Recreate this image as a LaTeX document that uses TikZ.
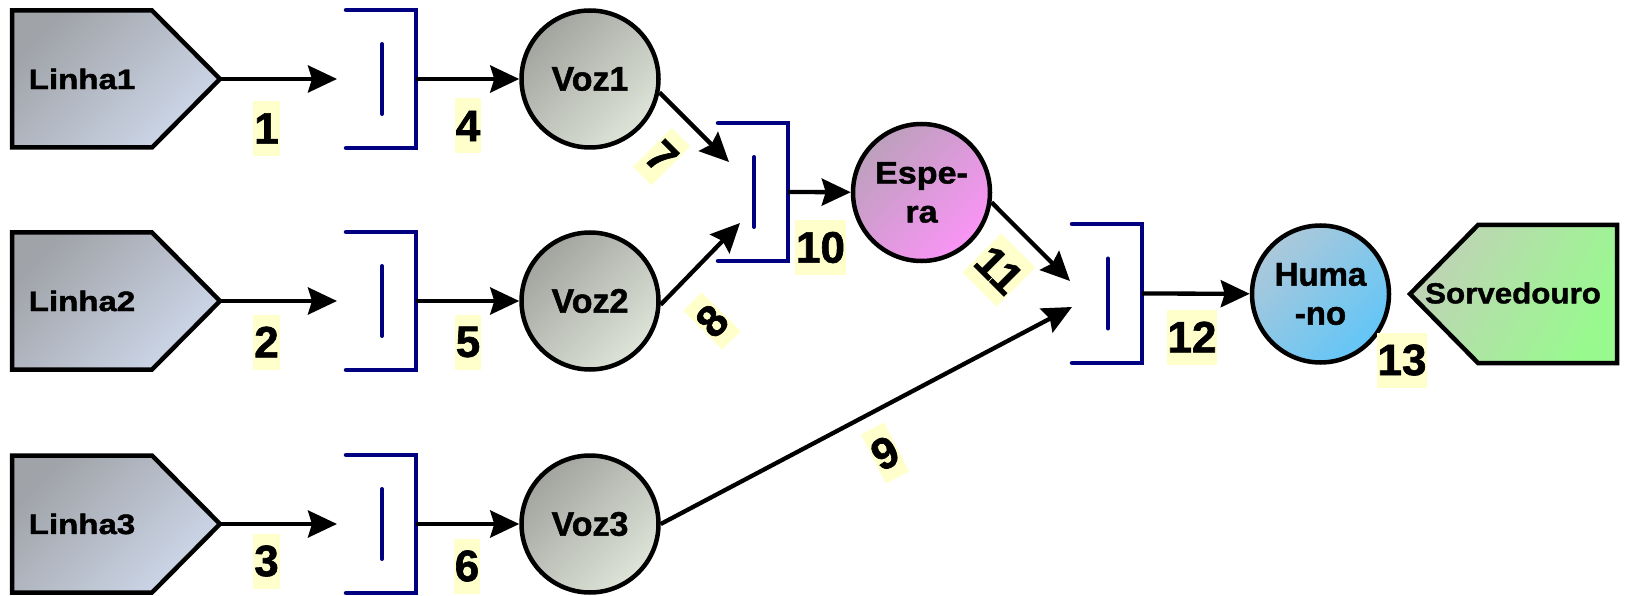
\documentclass[tikz,border=0pt]{standalone}
\usepackage{fontspec}
\setmainfont{Liberation Sans}[BoldFeatures={FakeBold=1.4}]
\newfontfamily\linhafont{Liberation Sans}[FakeStretch=1.18,BoldFeatures={FakeBold=1.6}]
\newfontfamily\esperafont{Liberation Sans}[FakeStretch=1.1,BoldFeatures={FakeBold=1.4}]
\newfontfamily\sorvfont{Liberation Sans}[FakeStretch=1.08,BoldFeatures={FakeBold=1.4}]
\usetikzlibrary{arrows.meta,calc}
\definecolor{lbly}{HTML}{FFFFCC}
\definecolor{qblue}{RGB}{0,0,128}
\definecolor{linA}{RGB}{160,163,168}
\definecolor{linB}{RGB}{206,216,234}
\definecolor{vozA}{RGB}{162,164,159}
\definecolor{vozB}{RGB}{222,228,216}
\definecolor{espA}{RGB}{188,160,188}
\definecolor{espB}{RGB}{250,148,246}
\definecolor{humA}{RGB}{172,200,218}
\definecolor{humB}{RGB}{98,198,247}
\definecolor{sorA}{RGB}{192,210,182}
\definecolor{sorB}{RGB}{152,250,142}
\tikzset{
  arr/.style={draw=black, line width=4.3pt, -{Stealth[length=29pt,width=27pt,inset=4pt]}},
  border/.style={draw=black, line width=4.5pt, line join=miter},
  lbl/.style={fill=lbly, font=\fontsize{44}{44}\selectfont\bfseries, inner xsep=0.8pt, inner ysep=0pt, minimum height=55pt, text=black},
  qline/.style={draw=qblue, line width=4.5pt, line cap=round, line join=miter},
  qbar/.style={draw=qblue, line width=4pt, line cap=round},
  qnode/.style={inner sep=0pt, outer sep=0pt, minimum width=70pt, minimum height=138pt},
  voz/.style={circle, border, minimum size=137pt, inner sep=0pt, top color=vozA, bottom color=vozB, shading angle=45, font=\fontsize{34}{36}\selectfont\bfseries},
  linhatext/.style={inner sep=0pt, outer sep=0pt, minimum width=140pt, minimum height=137pt, font=\linhafont\fontsize{28}{30}\selectfont\bfseries},
  linhashade/.style={border, top color=linA, bottom color=linB, shading angle=45},
}
\newcommand\linhashape[1]{%
  \path[linhashade] (12,#1-68.5) -- (152,#1-68.5) -- (220,#1) -- (152,#1+68.5) -- (12,#1+68.5) -- cycle;}
\newcommand\queueshape[1]{%
  \draw[qline] (#1.north west) -- (#1.north east) -- (#1.south east) -- (#1.south west);
  \draw[qbar] ([xshift=1pt,yshift=35pt]#1.center) -- ([xshift=1pt,yshift=-35pt]#1.center);}
\begin{document}
\begin{tikzpicture}[x=1pt,y=-1pt]
\useasboundingbox (0,0) rectangle (1626,596);
\fill[white] (0,0) rectangle (1626,596);

% sources
\linhashape{79}
\linhashape{301}
\linhashape{524}
\node[linhatext] (L1) at (82,79) {Linha1};
\node[linhatext] (L2) at (82,301) {Linha2};
\node[linhatext] (L3) at (82,524) {Linha3};
\coordinate (L1tip) at (220,79);
\coordinate (L2tip) at (220,301);
\coordinate (L3tip) at (220,524);

% queues
\node[qnode] (Q1) at (381,79) {};
\node[qnode] (Q2) at (381,301) {};
\node[qnode] (Q3) at (381,524) {};
\node[qnode] (Q4) at (753,192) {};
\node[qnode, minimum height=139pt] (Q5) at (1107,293.5) {};
\queueshape{Q1}
\queueshape{Q2}
\queueshape{Q3}
\queueshape{Q4}
\queueshape{Q5}

% processes
\node[voz] (V1) at (590,79) {Voz1};
\node[voz] (V2) at (590,301) {Voz2};
\node[voz] (V3) at (590,524) {Voz3};
\node[voz, top color=espA, bottom color=espB, shading angle=45, align=center,
      font=\esperafont\fontsize{31}{39}\selectfont\bfseries] (E) at (921.5,192.5) {Espe-\\ra};
\node[voz, top color=humA, bottom color=humB, shading angle=45, align=center,
      font=\fontsize{33}{39}\selectfont\bfseries] (H) at (1320.5,294) {Huma\\-no};

% sink
\path[border, top color=sorA, bottom color=sorB, shading angle=60]
  (1410,294) -- (1478,225) -- (1617,225) -- (1617,363) -- (1478,363) -- cycle;
\node[inner sep=0pt, font=\sorvfont\fontsize{29}{30}\selectfont\bfseries] (S) at (1513,293) {Sorvedouro};

% arrow end points inside queues
\coordinate (t7) at (729,162);
\coordinate (t8) at (740,223);
\coordinate (t9) at (1072,307);
\coordinate (t11) at (1070,281);

% connectors
\draw[arr] (L1tip) -- ([xshift=-9pt]Q1.west);
\draw[arr] (L2tip) -- ([xshift=-9pt]Q2.west);
\draw[arr] (L3tip) -- ([xshift=-9pt]Q3.west);
\draw[arr] (Q1.east) -- (V1);
\draw[arr] (Q2.east) -- (V2);
\draw[arr] (Q3.east) -- (V3);
\draw[arr] (V1.-11) -- (t7);
\draw[arr] (V2.-3) -- (t8);
\draw[arr] (V3.east) -- (t9);
\draw[arr] (Q4.east) -- (E);
\draw[arr] (E.-8) -- (t11);
\draw[arr] (Q5.east) -- (H);

% labels
\node[lbl] (n1) at (266.5,128.5) {1};
\node[lbl] (n2) at (266.5,342) {2};
\node[lbl] (n3) at (266.5,561) {3};
\node[lbl] (n4) at (468,126) {4};
\node[lbl] (n5) at (468,342) {5};
\node[lbl] (n6) at (467,566) {6};
\node[lbl, rotate=-45] (n7) at (661.7,156.7) {7};
\node[lbl, rotate=45] (n8) at (712,321) {8};
\node[lbl, rotate=27] (n9) at (885,453) {9};
\node[lbl] (n10) at (820.5,247.5) {10};
\node[lbl, rotate=-45] (n11) at (999,270) {11};
\node[lbl] (n12) at (1192,337) {12};
\node[lbl] (n13) at (1402,360) {13};
\end{tikzpicture}
\end{document}
